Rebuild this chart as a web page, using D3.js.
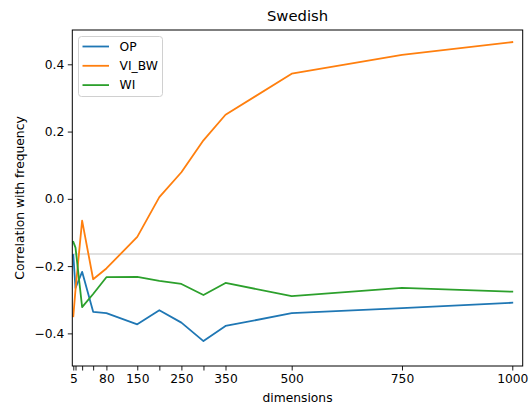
<!DOCTYPE html>
<html>
<head>
<meta charset="utf-8">
<script src="https://cdn.jsdelivr.net/npm/d3@7"></script>
<style>
  body { margin: 0; background: #fff; }
  svg { display: block; font-family: "DejaVu Sans", sans-serif; }
</style>
</head>
<body>
<svg id="chart" width="531" height="408"></svg>
<script>
// values
const dims = [5, 10, 25, 50, 80, 150, 200, 250, 300, 350, 500, 750, 1000];
const xTickLabels = ["5", "", "", "", "80", "150", "", "250", "", "350", "500", "750", "1000"];
const yTicks = [-0.4, -0.2, 0.0, 0.2, 0.4];
const seriesNames = ["OP", "VI_BW", "WI"];
const opValues = [-0.167, -0.265, -0.217, -0.336, -0.340, -0.373, -0.331, -0.368, -0.423, -0.378, -0.340, -0.325, -0.309];
const viBwValues = [-0.349, -0.27, -0.065, -0.239, -0.207, -0.113, 0.005, 0.079, 0.174, 0.250, 0.372, 0.428, 0.466];
const wiValues = [-0.128, -0.145, -0.322, -0.283, -0.233, -0.232, -0.244, -0.253, -0.286, -0.250, -0.289, -0.265, -0.276];
const refLine = -0.164;

const colors = ["#1f77b4", "#ff7f0e", "#2ca02c"];
const series = [opValues, viBwValues, wiValues];

const svg = d3.select("#chart");
const margin = { top: 30, right: 8.3, bottom: 42, left: 72.3 };
const width = 531, height = 408;

const x = d3.scaleLinear()
  .domain([2.73, 1023.6])
  .range([margin.left, width - margin.right]);
const y = d3.scaleLinear()
  .domain([-0.497, 0.502])
  .range([height - margin.bottom, margin.top]);

// light horizontal reference line
svg.append("line")
  .attr("x1", x.range()[0]).attr("x2", x.range()[1])
  .attr("y1", y(refLine)).attr("y2", y(refLine))
  .attr("stroke", "#d6d6d6")
  .attr("stroke-width", 1.5);

// series lines
const line = d3.line()
  .x((d, i) => x(dims[i]))
  .y(d => y(d));

svg.selectAll("path.series")
  .data(series)
  .enter()
  .append("path")
  .attr("class", "series")
  .attr("d", d => line(d))
  .attr("fill", "none")
  .attr("stroke", (d, i) => colors[i])
  .attr("stroke-width", 1.8)
  .attr("stroke-linejoin", "round")
  .attr("stroke-linecap", "square");

// axes
const xAxis = d3.axisBottom(x)
  .tickValues(dims)
  .tickFormat((d, i) => xTickLabels[i])
  .tickSize(4.5)
  .tickPadding(3.5);
const gx = svg.append("g")
  .attr("transform", `translate(0,${height - margin.bottom})`)
  .call(xAxis);

const yAxis = d3.axisLeft(y)
  .tickValues(yTicks)
  .tickFormat(d => d3.format(".1f")(d).replace("-", "\u2212"))
  .tickSize(4.5)
  .tickPadding(3.5);
const gy = svg.append("g")
  .attr("transform", `translate(${margin.left},0)`)
  .call(yAxis);

[gx, gy].forEach(g => {
  g.select(".domain").remove();
  g.selectAll("line").attr("stroke", "#000").attr("stroke-width", 0.9);
  g.selectAll("text")
    .attr("fill", "#000")
    .style("font-size", "12.3px")
    .style("font-family", "DejaVu Sans, sans-serif");
});

// frame
svg.append("rect")
  .attr("x", margin.left)
  .attr("y", margin.top)
  .attr("width", width - margin.right - margin.left)
  .attr("height", height - margin.bottom - margin.top)
  .attr("fill", "none")
  .attr("stroke", "#000")
  .attr("stroke-width", 1);

// title and labels
svg.append("text")
  .attr("x", (x.range()[0] + x.range()[1]) / 2)
  .attr("y", 21)
  .attr("text-anchor", "middle")
  .style("font-size", "14.8px")
  .text("Swedish");

svg.append("text")
  .attr("x", (x.range()[0] + x.range()[1]) / 2)
  .attr("y", 402)
  .attr("text-anchor", "middle")
  .style("font-size", "12.3px")
  .text("dimensions");

svg.append("text")
  .attr("transform", `translate(24,${(y.range()[0] + y.range()[1]) / 2}) rotate(-90)`)
  .attr("text-anchor", "middle")
  .style("font-size", "12.3px")
  .text("Correlation with frequency");

// legend
const legend = svg.append("g");
legend.append("rect")
  .attr("x", 78.5).attr("y", 36.5)
  .attr("width", 84).attr("height", 60)
  .attr("rx", 3)
  .attr("fill", "#fff")
  .attr("fill-opacity", 0.8)
  .attr("stroke", "#d0d0d0")
  .attr("stroke-width", 1);

const items = legend.selectAll("g.item")
  .data(seriesNames)
  .enter()
  .append("g")
  .attr("class", "item")
  .attr("transform", (d, i) => `translate(0,${46.5 + i * 19.3})`);
items.append("line")
  .attr("x1", 82.5).attr("x2", 109)
  .attr("stroke", (d, i) => colors[i])
  .attr("stroke-width", 1.8);
items.append("text")
  .attr("x", 119.5)
  .attr("dy", "0.35em")
  .style("font-size", "12.3px")
  .text(d => d);
</script>
</body>
</html>
